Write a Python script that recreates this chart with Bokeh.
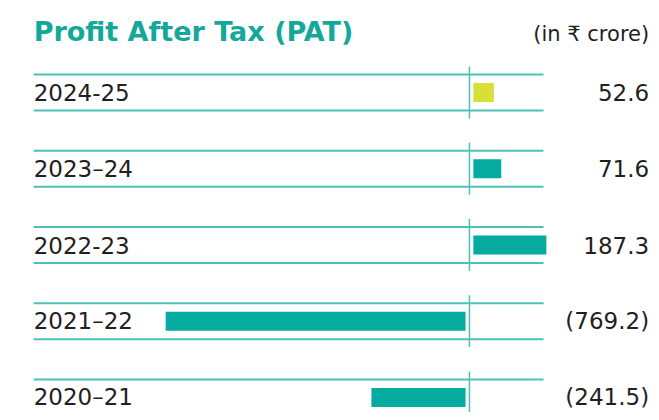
from bokeh.plotting import figure
from bokeh.models import ColumnDataSource, LabelSet, Label, Range1d
from bokeh.core.properties import value
from bokeh.embed import file_html
from bokeh.resources import INLINE

# ---- data ----
years = ["2024-25", "2023\u201324", "2022-23", "2021\u201322", "2020\u201321"]
pat = [52.6, 71.6, 187.3, -769.2, -241.5]
bar_colors = ["#d8df37", "#05ab9e", "#05ab9e", "#05ab9e", "#05ab9e"]
title_text = "Profit After Tax (PAT)"
unit_text = "(in \u20b9 crore)"

# ---- layout / style ----
X_START, X_END = -1203, 467
LINE_X0, LINE_X1 = -1118, 190
VAL_X = 461
GAP = 10          # white gap between zero line and bar (data units)
BAR_H = 0.25
ROW_HALF = 0.236  # half distance between the two rules around a row
SEG_HALF = 0.34
TEAL_LINE = "#4cc2b5"
TEXT = "#231f20"
FONT_NAME = "DejaVu Sans"
FONT = value(FONT_NAME)

rows = list(range(len(years) - 1, -1, -1))
left = [GAP if v > 0 else v - GAP for v in pat]
right = [v + GAP if v > 0 else -GAP for v in pat]
vals = [f"{v:.1f}" if v >= 0 else f"({abs(v):.1f})" for v in pat]

src = ColumnDataSource(dict(
    y=rows, left=left, right=right, color=bar_colors, year=years, val=vals,
    xs=[LINE_X0] * len(rows), xv=[VAL_X] * len(rows),
))

p = figure(width=651, height=412, output_backend="svg", toolbar_location=None,
           x_range=Range1d(X_START, X_END), y_range=Range1d(-0.197, 5.207),
           x_axis_type=None, y_axis_type=None, min_border=0)
p.outline_line_color = None
p.background_fill_color = "white"
p.border_fill_color = "white"
p.xgrid.visible = False
p.ygrid.visible = False

rule_y = sorted([r - ROW_HALF for r in rows] + [r + ROW_HALF for r in rows])
p.segment(x0=LINE_X0, x1=LINE_X1, y0=rule_y, y1=rule_y,
          line_color=TEAL_LINE, line_width=2)

p.segment(x0=0, x1=0, y0=[r - SEG_HALF for r in rows], y1=[r + SEG_HALF for r in rows],
          line_color=TEAL_LINE, line_width=1.5)

p.hbar(y="y", left="left", right="right", height=BAR_H, color="color",
       line_color=None, source=src)

p.add_layout(LabelSet(x="xs", y="y", text="year", source=src, text_align="left",
                      text_baseline="middle", text_font=FONT, text_font_size=value("23px"),
                      text_color=TEXT))
p.add_layout(LabelSet(x="xv", y="y", text="val", source=src,
                      text_align="right", text_baseline="middle", text_font=FONT,
                      text_font_size=value("23px"), text_color=TEXT))

top = max(rows) + 0.8
p.add_layout(Label(x=LINE_X0, y=top, text=title_text, text_align="left",
                   text_baseline="middle", text_font=FONT_NAME, text_font_style="bold",
                   text_font_size="27px", text_color="#14a89a"))
p.add_layout(Label(x=VAL_X, y=top - 0.03, text=unit_text, text_align="right",
                   text_baseline="middle", text_font=FONT_NAME, text_font_size="21px",
                   text_color=TEXT))

open("out.html", "w").write(file_html(p, INLINE))
